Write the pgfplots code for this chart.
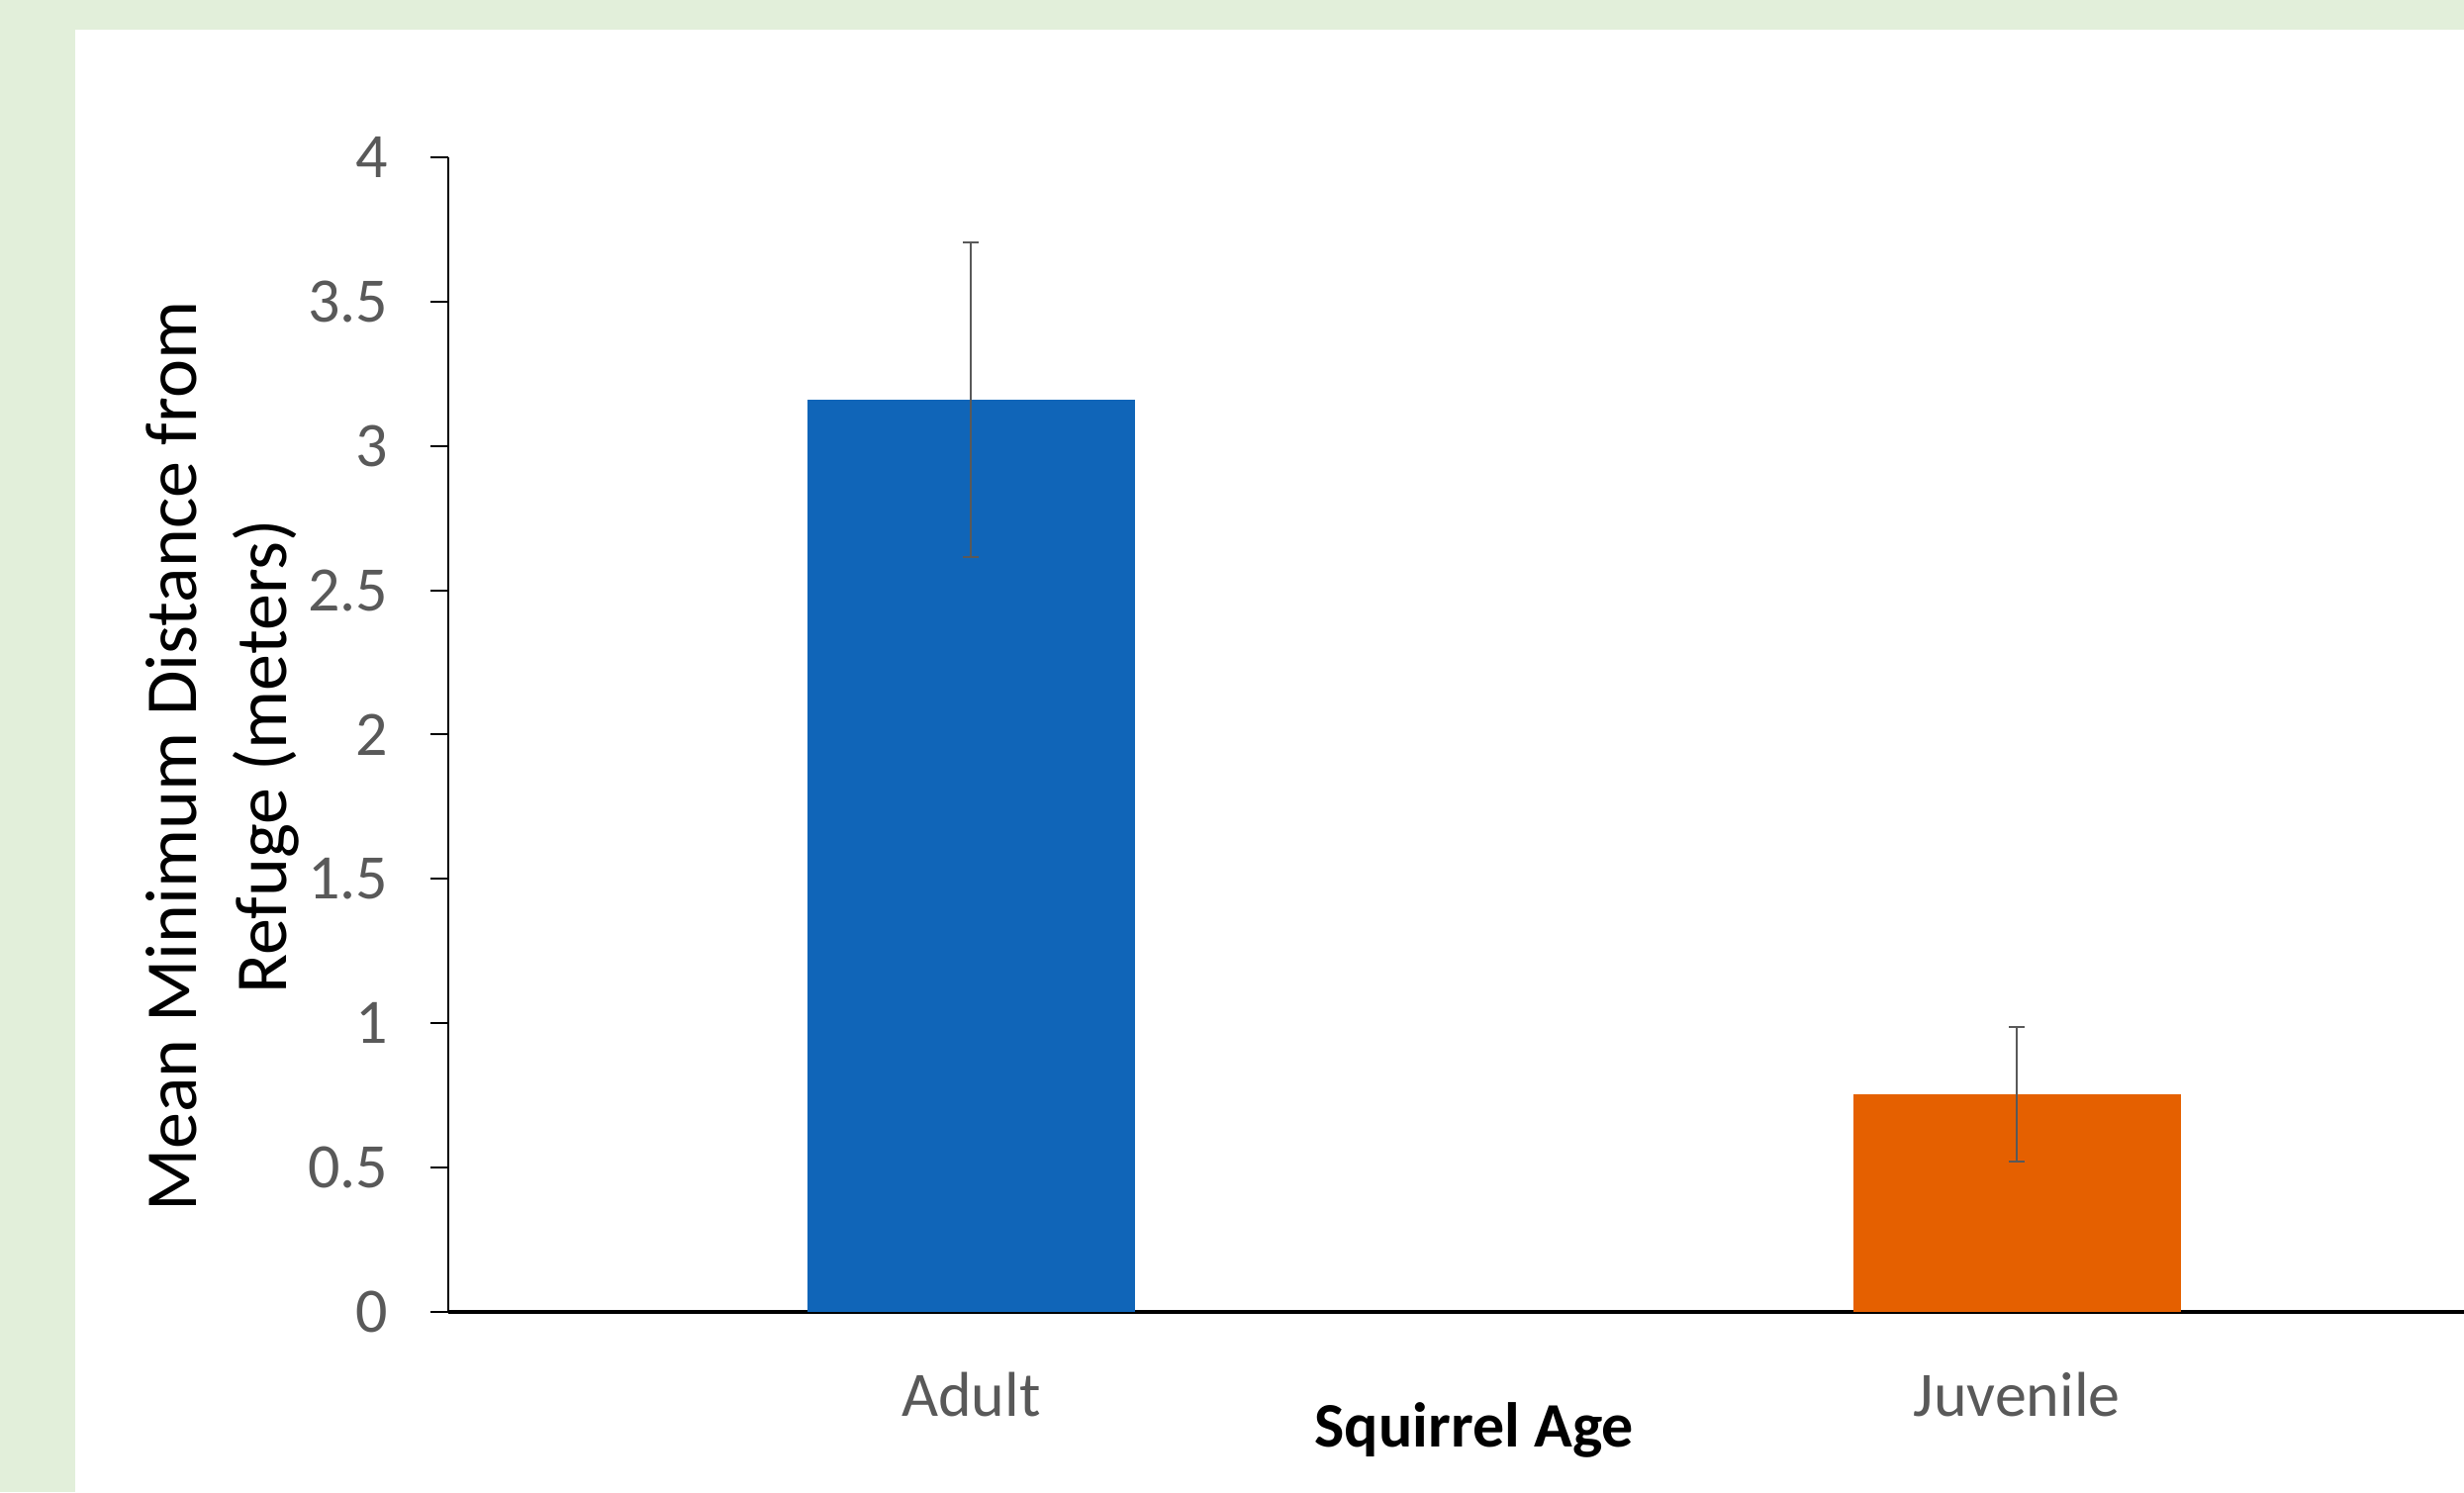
\documentclass[border=0pt]{standalone}
\usepackage{fontspec}
\setmainfont{Carlito}
\usepackage{pgfplots}
\pgfplotsset{compat=1.18}
\definecolor{bgGreen}{HTML}{E2EFDA}
\definecolor{barBlue}{HTML}{1065B8}
\definecolor{barOrange}{HTML}{E56000}
\definecolor{tickGray}{HTML}{595959}
\begin{document}
\begin{tikzpicture}[x=1pt,y=1pt]
\fill[bgGreen] (0,0) rectangle (622.5,377);
\fill[white] (19,0) rectangle (622.5,369.5);
\begin{axis}[
  at={(113.25pt,45.5pt)}, anchor=south west,
  scale only axis, width=509.25pt, height=291.75pt,
  xmin=-0.5, xmax=1.4276, ymin=0, ymax=4,
  axis x line*=bottom, axis y line*=left,
  x axis line style={line width=1pt, black, -},
  y axis line style={line width=0.5pt, black, -},
  xtick={0,1}, xticklabels={Adult,Juvenile},
  major x tick style={draw=none},
  ytick={0,0.5,1,1.5,2,2.5,3,3.5,4},
  tick align=outside, major tick length=4.5pt,
  major y tick style={black, line width=0.5pt},
  /pgf/number format/assume math mode=true,
  yticklabel style={font=\fontsize{16}{19}\selectfont, text=tickGray, anchor=east, inner sep=0pt, xshift=-10.5pt},
  xticklabel style={font=\fontsize{16}{19}\selectfont, text=tickGray, anchor=base, inner sep=0pt, yshift=-21.75pt},
  xlabel={Squirrel Age},
  xlabel style={font=\fontsize{16}{19}\selectfont\bfseries, black, at={(axis description cs:0.509,-0.102)}, anchor=center},
  ylabel={Mean Minimum Distance from\\Refuge (meters)},
  ylabel style={font=\fontsize{18.5}{22.6}\selectfont, black, align=center, at={(axis description cs:-0.112,0.481)}, anchor=center, rotate=0},
  clip=false,
]
\addplot[ybar, bar shift=0pt, bar width=82.75pt, fill=barBlue, draw=none,
  error bars/.cd, y dir=both, y explicit,
  error mark=-,
  error bar style={tickGray, line width=0.45pt},
  error mark options={tickGray, mark size=2pt, line width=0.6pt, rotate=90}]
  coordinates {(0,3.16) +- (0,0.545)};
\addplot[ybar, bar shift=0pt, bar width=82.75pt, fill=barOrange, draw=none,
  error bars/.cd, y dir=both, y explicit,
  error mark=-,
  error bar style={tickGray, line width=0.45pt},
  error mark options={tickGray, mark size=2pt, line width=0.6pt, rotate=90}]
  coordinates {(1,0.754) +- (0,0.234)};
\end{axis}
\pgfresetboundingbox
\useasboundingbox (0,0) rectangle (622.5,377);
\end{tikzpicture}
\end{document}
